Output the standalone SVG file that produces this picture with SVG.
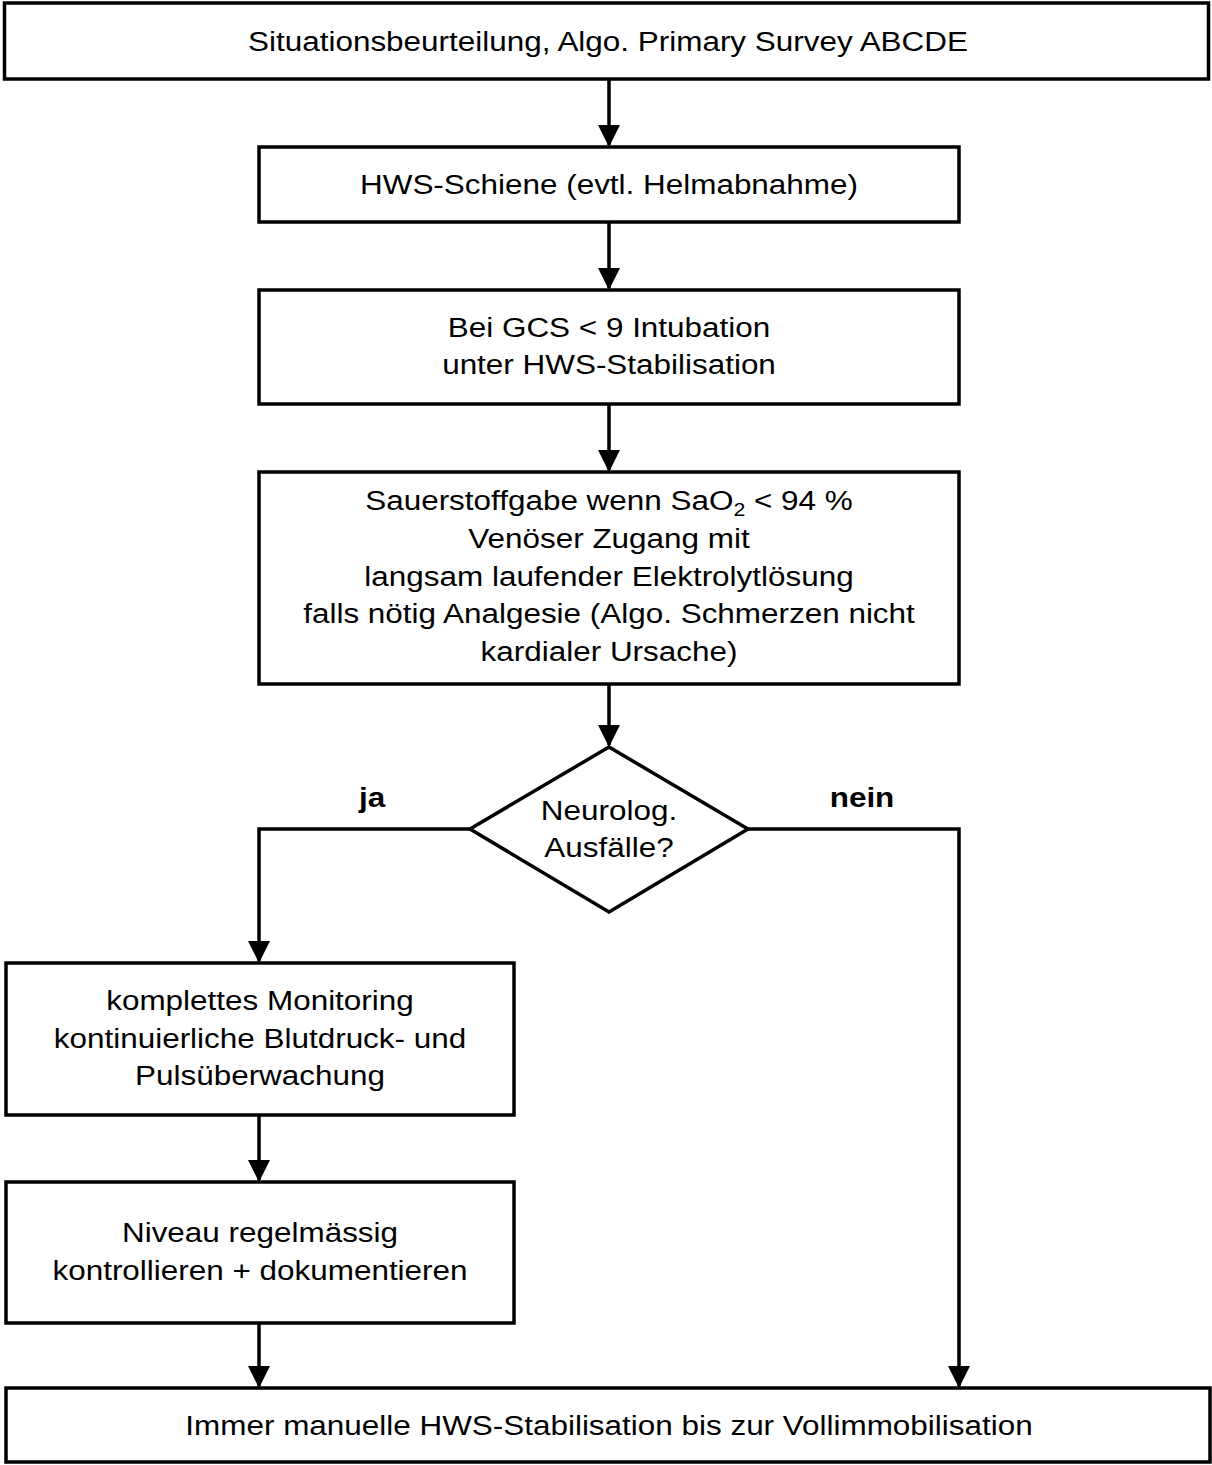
<svg xmlns="http://www.w3.org/2000/svg" width="1212" height="1465" viewBox="0 0 1212 1465">
<style>
.b{fill:#fff;stroke:#000;stroke-width:3.5}
.t{font-family:"Liberation Sans",Arial,sans-serif;font-size:28px;text-anchor:middle;fill:#000}
.l{font-family:"Liberation Sans",Arial,sans-serif;font-size:28px;font-weight:bold;text-anchor:middle;fill:#000}
.c{fill:none;stroke:#000;stroke-width:3.5}
</style>
<g id="connectors">
<path class="c" d="M609,79 V145"/>
<path class="c" d="M609,222 V288"/>
<path class="c" d="M609,404 V470"/>
<path class="c" d="M609,684 V745"/>
<path class="c" d="M470,829 H259 V961"/>
<path class="c" d="M748,829 H959 V1386"/>
<path class="c" d="M259,1115 V1180"/>
<path class="c" d="M259,1323 V1386"/>
<g fill="#000">
<path d="M598,125 L620,125 L609,147 Z"/>
<path d="M598,268 L620,268 L609,290 Z"/>
<path d="M598,450 L620,450 L609,472 Z"/>
<path d="M598,725 L620,725 L609,747 Z"/>
<path d="M248,941 L270,941 L259,963 Z"/>
<path d="M948,1366 L970,1366 L959,1388 Z"/>
<path d="M248,1160 L270,1160 L259,1182 Z"/>
<path d="M248,1366 L270,1366 L259,1388 Z"/>
</g>
<text class="l" transform="translate(372 807) scale(1.123 1)">ja</text>
<text class="l" transform="translate(862 807) scale(1.123 1)">nein</text>
</g>
<g id="n1">
<rect class="b" x="4.5" y="3" width="1204" height="76"/>
<g transform="translate(608 0) scale(1.123 1)">
<text class="t" x="0" y="51">Situationsbeurteilung, Algo. Primary Survey ABCDE</text>
</g>
</g>
<g id="n2">
<rect class="b" x="259" y="147" width="700" height="75"/>
<g transform="translate(609 0) scale(1.123 1)">
<text class="t" x="0" y="194">HWS-Schiene (evtl. Helmabnahme)</text>
</g>
</g>
<g id="n3">
<rect class="b" x="259" y="290" width="700" height="114"/>
<g transform="translate(609 0) scale(1.123 1)">
<text class="t" x="0" y="337">Bei GCS &lt; 9 Intubation</text>
<text class="t" x="0" y="374">unter HWS-Stabilisation</text>
</g>
</g>
<g id="n4">
<rect class="b" x="259" y="472" width="700" height="212"/>
<g transform="translate(609 0) scale(1.123 1)">
<text class="t" x="0" y="510">Sauerstoffgabe wenn SaO<tspan font-size="19" dy="6">2</tspan><tspan dy="-6"> &lt; 94 %</tspan></text>
<text class="t" x="0" y="548">Venöser Zugang mit</text>
<text class="t" x="0" y="586">langsam laufender Elektrolytlösung</text>
<text class="t" x="0" y="623">falls nötig Analgesie (Algo. Schmerzen nicht</text>
<text class="t" x="0" y="661">kardialer Ursache)</text>
</g>
</g>
<g id="n5">
<polygon class="b" points="609,747 748,829 609,912 470,829"/>
<g transform="translate(609 0) scale(1.123 1)">
<text class="t" x="0" y="820">Neurolog.</text>
<text class="t" x="0" y="857">Ausfälle?</text>
</g>
</g>
<g id="n6">
<rect class="b" x="6" y="963" width="508" height="152"/>
<g transform="translate(260 0) scale(1.123 1)">
<text class="t" x="0" y="1010">komplettes Monitoring</text>
<text class="t" x="0" y="1048">kontinuierliche Blutdruck- und</text>
<text class="t" x="0" y="1085">Pulsüberwachung</text>
</g>
</g>
<g id="n7">
<rect class="b" x="6" y="1182" width="508" height="141"/>
<g transform="translate(260 0) scale(1.123 1)">
<text class="t" x="0" y="1242">Niveau regelmässig</text>
<text class="t" x="0" y="1280">kontrollieren + dokumentieren</text>
</g>
</g>
<g id="n8">
<rect class="b" x="6" y="1388" width="1204" height="74"/>
<g transform="translate(609 0) scale(1.123 1)">
<text class="t" x="0" y="1435">Immer manuelle HWS-Stabilisation bis zur Vollimmobilisation</text>
</g>
</g>
</svg>
